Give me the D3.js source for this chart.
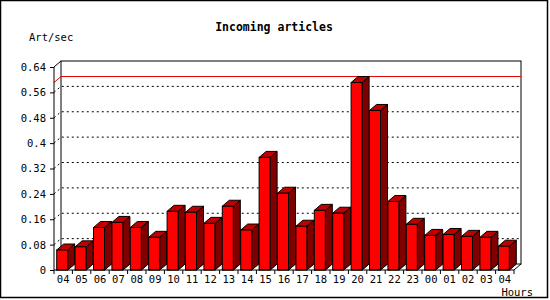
<!DOCTYPE html>
<html><head><meta charset="utf-8">
<script src="https://cdn.jsdelivr.net/npm/d3@7/dist/d3.min.js"></script>
<style>body{margin:0;background:#fff}svg{display:block}text{font-family:"DejaVu Sans Mono",monospace}</style>
</head><body>
<script>
const hours = ["04","05","06","07","08","09","10","11","12","13","14","15","16","17","18","19","20","21","22","23","00","01","02","03","04"];
const values = [0.063,0.073,0.134,0.150,0.134,0.103,0.185,0.182,0.147,0.201,0.126,0.355,0.242,0.138,0.188,0.179,0.591,0.503,0.216,0.144,0.109,0.112,0.106,0.103,0.075];
const yTicks = [0,0.08,0.16,0.24,0.32,0.4,0.48,0.56,0.64];
const yTickLabels = ["0","0.08","0.16","0.24","0.32","0.4","0.48","0.56","0.64"];

const W=550,H=300;
const svg=d3.select("body").append("svg").attr("width",W).attr("height",H);
svg.append("rect").attr("width",W).attr("height",H).attr("fill","#fff");

const x0=54, x1=514, dx=7, dy=6;
const y=d3.scaleLinear().domain([0,0.64]).range([270,67]);
const x=d3.scaleBand().domain(d3.range(hours.length)).range([x0,x1]).paddingInner(0).paddingOuter(0);
const bw=11, boff=2.7;

// back wall
svg.append("rect").attr("x",x0+dx).attr("y",y(0.64)-dy).attr("width",x1-x0).attr("height",y(0)-y(0.64)).attr("fill","#fff").attr("stroke","#000");

// grid lines
const grid=yTicks.slice(1,-1);
svg.selectAll("path.grid").data(grid).enter().append("path")
 .attr("d",d=>`M${x0},${y(d)}L${x0+dx},${y(d)-dy}L${x1+dx},${y(d)-dy}`)
 .attr("fill","none").attr("stroke","#000").attr("stroke-dasharray","2,3");

// max line
const mx=d3.max(values);
svg.append("path").attr("d",`M${x0},${y(mx)}L${x0+dx},${y(mx)-dy}L${x1+dx},${y(mx)-dy}`)
 .attr("fill","none").attr("stroke","#e00000");

// floor shadows
const g=svg.append("g");
hours.forEach((h,i)=>{
  const bx=x(i)+boff, by=y(values[i]), b0=y(0);
  g.append("path").attr("d",`M${bx},${b0}L${bx+bw},${b0}L${bx+bw+dx},${b0-dy}L${bx+dx},${b0-dy}Z`)
   .attr("fill","#888").attr("stroke","#000").attr("stroke-width",0.6);
});
hours.forEach((h,i)=>{
  const bx=x(i)+boff, by=y(values[i]), b0=y(0);
  g.append("path").attr("d",`M${bx+bw},${by}L${bx+bw+dx},${by-dy}L${bx+bw+dx},${b0-dy}L${bx+bw},${b0}Z`)
   .attr("fill","#800000").attr("stroke","#000");
  g.append("path").attr("d",`M${bx},${by}L${bx+dx},${by-dy}L${bx+bw+dx},${by-dy}L${bx+bw},${by}Z`)
   .attr("fill","#c00000").attr("stroke","#000");
  g.append("rect").attr("x",bx).attr("y",by).attr("width",bw).attr("height",b0-by)
   .attr("fill","#ff0000").attr("stroke","#000");
});

// axes
svg.append("path").attr("d",`M${x0},${y(0.64)}L${x0+dx},${y(0.64)-dy}`).attr("stroke","#000").attr("fill","none");
svg.append("path").attr("d",`M${x1},${y(0)}L${x1+dx},${y(0)-dy}`).attr("stroke","#000").attr("fill","none");
const yAxis=d3.axisLeft(y).tickValues(yTicks).tickFormat((d,i)=>yTickLabels[i]).tickSize(4).tickPadding(4);
const ya=svg.append("g").attr("transform",`translate(${x0},0)`).call(yAxis);
ya.select(".domain").attr("d",`M0,${y(0.64)}V${y(0)}`);
ya.selectAll("text").attr("font-size","10.5px").attr("fill","#000").attr("font-family","DejaVu Sans Mono");

const xa=svg.append("g").attr("transform",`translate(0,${y(0)})`)
 .call(d3.axisBottom(x).tickSize(0).tickFormat(i=>hours[i]).tickPadding(6));
xa.select(".domain").attr("d",`M${x0},0H${x1}`);
xa.selectAll("text").attr("font-size","10.5px").attr("fill","#000").attr("font-family","DejaVu Sans Mono");
xa.selectAll("line.xt").data(d3.range(hours.length+1)).enter().append("line").attr("class","xt")
 .attr("x1",i=>x0+i*x.step()).attr("x2",i=>x0+i*x.step()).attr("y1",0).attr("y2",4).attr("stroke","#000");

// texts
svg.append("text").attr("x",274).attr("y",30.5).attr("text-anchor","middle").attr("font-weight","bold").attr("font-size","11.5px").text("Incoming articles");
svg.append("text").attr("x",29).attr("y",40.5).attr("font-size","10.5px").text("Art/sec");
svg.append("text").attr("x",533).attr("y",295.5).attr("text-anchor","end").attr("font-size","10.5px").text("Hours");

// frame
svg.append("rect").attr("x",0.5).attr("y",0.5).attr("width",547).attr("height",297).attr("fill","none").attr("stroke","#000").attr("stroke-width",1.5);
</script>
</body></html>
